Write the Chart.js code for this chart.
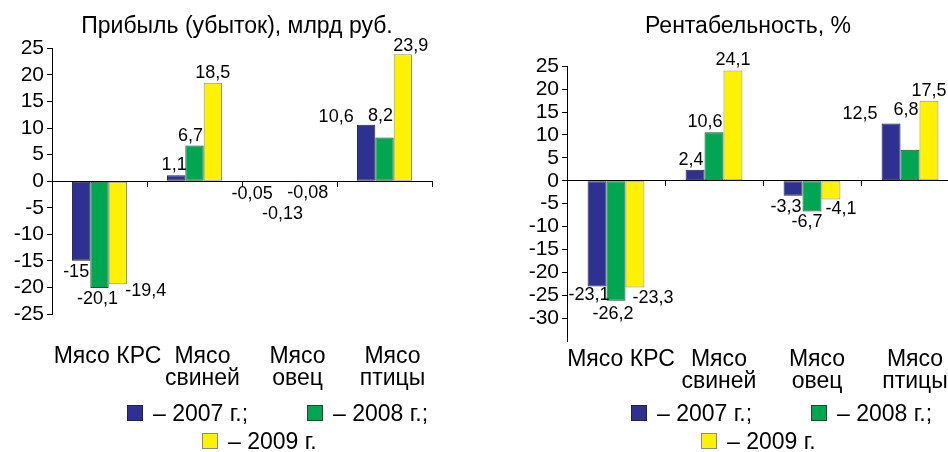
<!DOCTYPE html>
<html>
<head>
<meta charset="utf-8">
<script src="https://cdn.jsdelivr.net/npm/chart.js@4/dist/chart.umd.min.js"></script>
<style>
    html, body { margin: 0; padding: 0; background: #fff; }
    body { width: 948px; height: 452px; overflow: hidden; position: relative; font-family: Arial, "Liberation Sans", sans-serif; }
    .panel { position: absolute; top: 0; height: 452px; }
    #profitPanel { left: 0; width: 474px; }
    #rentPanel { left: 474px; width: 548px; }
    .legend-item { position: absolute; display: flex; align-items: center; font-size: 23px; color: #000; white-space: nowrap; line-height: 26px; }
    .legend-box { width: 14px; height: 14px; border: 1px solid #444; margin-right: 10px; }
</style>
</head>
<body>
<div class="panel" id="profitPanel"><canvas id="profitChart" width="474" height="452"></canvas></div>
<div class="panel" id="rentPanel"><canvas id="rentChart" width="548" height="452"></canvas></div>
<script>
// categories and years
const categories = ['Мясо КРС', ['Мясо', 'свиней'], ['Мясо', 'овец'], ['Мясо', 'птицы']];
const years = ['2007 г.', '2008 г.', '2009 г.'];

// profit (loss), bln rub
const profit2007 = [-15, 1.1, -0.05, 10.6];
const profit2008 = [-20.1, 6.7, -0.13, 8.2];
const profit2009 = [-19.4, 18.5, -0.08, 23.9];
const profitTicks = [25, 20, 15, 10, 5, 0, -5, -10, -15, -20, -25];

// profitability, %
const rent2007 = [-23.1, 2.4, -3.3, 12.5];
const rent2008 = [-26.2, 10.6, -6.7, 6.8];
const rent2009 = [-23.3, 24.1, -4.1, 17.5];
const rentTicks = [25, 20, 15, 10, 5, 0, -5, -10, -15, -20, -25, -30];

const fills = ['#2e3192', '#00a651', '#fff200'];
const edges = ['#222244', '#1d4d2c', '#8a8a8a'];
const FONT = 'Arial, "Liberation Sans", sans-serif';

Chart.defaults.font.family = FONT;
Chart.defaults.color = '#000';

// nudges for value labels so they don't collide (like the original)
const profitNudge = [
    [[-5, 0], [-2, 0], [-19, 2], [-30, 2]],
    [[-2, 0], [-4, 0], [-7, 21], [-4, -12]],
    [[28, -4], [0, 0], [0, 0], [8, 2]]
];
const rentNudge = [
    [[-8, -2], [-4, 0], [-7, 0], [-31, 1]],
    [[-3, 2], [-9, 0], [-5, 0], [-4, -30]],
    [[18, 0], [0, 0], [10, -1], [0, 0]]
];

const valueLabels = {
    id: 'valueLabels',
    afterDatasetsDraw(chart, args, opts) {
        const ctx = chart.ctx;
        ctx.save();
        ctx.font = '18px ' + FONT;
        ctx.fillStyle = '#000';
        ctx.textAlign = 'center';
        chart.data.datasets.forEach((ds, i) => {
            chart.getDatasetMeta(i).data.forEach((bar, j) => {
                const v = ds.data[j];
                const n = opts.nudge[i][j];
                const neg = v < 0;
                ctx.textBaseline = neg ? 'top' : 'bottom';
                ctx.fillText(String(v).replace('.', ','), bar.x + n[0], bar.y + (neg ? 2 : -1) + n[1]);
            });
        });
        ctx.restore();
    }
};

function makeChart(id, title, series, ticks, min, max, opt) {
    const datasets = series.map((data, i) => ({
        label: years[i],
        data: data,
        backgroundColor: fills[i],
        borderColor: edges[i],
        borderWidth: 1,
        borderSkipped: false,
        barPercentage: 1,
        categoryPercentage: 0.58
    }));

    return new Chart(document.getElementById(id), {
        type: 'bar',
        data: { labels: categories, datasets: datasets },
        options: {
            responsive: false,
            animation: false,
            devicePixelRatio: 1,
            layout: { padding: 0 },
            plugins: {
                legend: { display: false },
                tooltip: { enabled: false },
                title: {
                    display: true,
                    text: title,
                    color: '#000',
                    font: { size: 23, weight: 'normal', lineHeight: 1.1 },
                    padding: { top: 14, bottom: opt.titleBottom }
                },
                valueLabels: { nudge: opt.nudge }
            },
            scales: {
                x: {
                    position: { y: 0 },
                    offset: true,
                    grid: { offset: true, drawOnChartArea: false, drawTicks: true, tickLength: 5, color: '#000' },
                    border: { display: true, color: '#000', width: 1 },
                    ticks: { display: false }
                },
                x2: {
                    type: 'category',
                    position: 'bottom',
                    offset: true,
                    grid: { display: false },
                    border: { display: false },
                    ticks: {
                        autoSkip: false, maxRotation: 0, minRotation: 0,
                        padding: opt.labelPad, labelOffset: opt.labelOffset,
                        font: { size: 23, lineHeight: 0.95 }, color: '#000'
                    },
                    afterFit: s => { s.height = opt.bottomHeight; }
                },
                y: {
                    min: min, max: max,
                    afterBuildTicks: s => { s.ticks = ticks.map(v => ({ value: v })); },
                    grid: { drawOnChartArea: false, drawTicks: true, tickLength: 5, color: '#000' },
                    border: { display: true, color: '#000', width: 1 },
                    ticks: { autoSkip: false, font: { size: 21 }, color: '#000', padding: 3 },
                    afterFit: s => { s.width = opt.axisWidth; }
                },
                // empty space on the right so the title stays centred on the whole panel
                yRight: {
                    position: 'right',
                    min: min, max: max,
                    grid: { display: false },
                    border: { display: false },
                    ticks: { display: false },
                    afterFit: s => { s.width = opt.padRight; }
                }
            }
        },
        plugins: [valueLabels]
    });
}

makeChart('profitChart', 'Прибыль (убыток), млрд руб.', [profit2007, profit2008, profit2009],
    profitTicks, -25, 25,
    { padRight: 42, titleBottom: 9, axisWidth: 52, bottomHeight: 138, labelPad: 24, labelOffset: 8, nudge: profitNudge });

makeChart('rentChart', 'Рентабельность, %', [rent2007, rent2008, rent2009],
    rentTicks, -35, 25,
    { padRight: 63, titleBottom: 27, axisWidth: 93, bottomHeight: 111, labelPad: 0, labelOffset: 5, nudge: rentNudge });

// legends: two items in the first row, one in the second
function makeLegend(panelId, slots) {
    const panel = document.getElementById(panelId);
    years.forEach((y, i) => {
        const item = document.createElement('div');
        item.className = 'legend-item';
        item.style.left = slots[i][0] + 'px';
        item.style.top = slots[i][1] + 'px';
        const box = document.createElement('span');
        box.className = 'legend-box';
        box.style.background = fills[i];
        box.style.borderColor = edges[i];
        item.appendChild(box);
        item.appendChild(document.createTextNode('– ' + y + (i < years.length - 1 ? ';' : '')));
        panel.appendChild(item);
    });
}

makeLegend('profitPanel', [[127, 400], [307, 400], [202, 428]]);
makeLegend('rentPanel', [[157, 400], [337, 400], [227, 428]]);
</script>
</body>
</html>
